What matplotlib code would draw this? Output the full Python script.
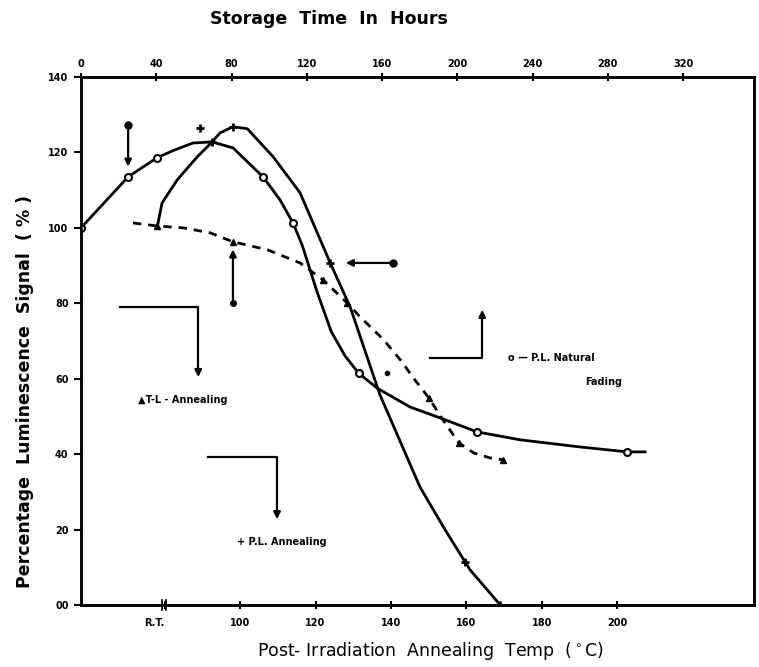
import matplotlib
matplotlib.use('Agg')
import matplotlib.pyplot as plt

# P.L. natural fading vs storage time (hours, top axis)
fading_hours = [0, 25, 40.4, 50, 59.5, 69.6, 80.8, 96.8, 105.8, 112.7, 117.5, 125.5, 133,
                140.4, 147.5, 157.4, 174.9, 190.9, 210.5, 233.4, 265.3, 290.3, 299.8]
fading_signal = [100, 113.5, 118.6, 120.7, 122.5, 122.8, 121.2, 113.5, 107.4, 101.3, 95.5, 83.0, 72.5,
                 66.0, 61.5, 57.5, 52.5, 49.6, 45.9, 43.8, 41.9, 40.6, 40.6]
fading_mark_hours = [0, 25, 40.4, 96.8, 112.7, 147.5, 210.5, 290.3]
fading_mark_signal = [100, 113.5, 118.6, 113.5, 101.3, 61.5, 45.9, 40.6]

# P.L. annealing vs temperature (bottom axis)
pl_temp = [78.2, 79.3, 83.3, 88.6, 92.6, 94.7, 98.1, 101.9, 108.8, 115.9, 123.9, 129.2,
           137.1, 147.7, 154.4, 161.0, 169.0]
pl_signal = [101.1, 106.6, 112.7, 118.8, 122.8, 125.2, 126.8, 126.3, 118.8, 109.3, 90.7, 79.0,
             55.7, 31.3, 19.9, 9.3, 0]
pl_mark_temp = [92.6, 98.1, 123.9, 159.7, 169.0]
pl_mark_signal = [122.8, 126.8, 90.7, 11.4, 0]

# T-L annealing vs temperature (dashed)
tl_temp = [71.6, 78.0, 84.9, 92.0, 98.1, 107.2, 115.9, 122.0, 128.4, 131.8, 137.9, 142.5,
           146.5, 150.0, 153.8, 158.0, 162.0, 166.3, 169.8]
tl_signal = [101.3, 100.5, 100.0, 98.7, 96.3, 94.2, 90.7, 86.2, 80.1, 76.4, 70.5, 65.0,
             59.5, 55.0, 49.1, 43.0, 40.3, 39.0, 38.5]
tl_mark_temp = [78.0, 98.1, 122.0, 128.4, 150.0, 158.0, 169.8]
tl_mark_signal = [100.5, 96.3, 86.2, 80.1, 55.0, 43.0, 38.5]

temp_ticks = [80, 100, 120, 140, 160, 180, 200]
temp_labels = ['R.T.', '100', '120', '140', '160', '180', '200']
hour_ticks = [0, 40, 80, 120, 160, 200, 240, 280, 320]
signal_ticks = [0, 20, 40, 60, 80, 100, 120, 140]
signal_labels = ['00', '20', '40', '60', '80', '100', '120', '140']

T_MIN, T_MAX = 57.8, 236.3
H_MAX = (T_MAX - T_MIN) / 0.499

fig = plt.figure(figsize=(7.59, 6.67), dpi=100)
ax = fig.add_axes([81 / 759, 1 - 605 / 667, (754 - 81) / 759, (605 - 77) / 667])
ax.set_xlim(T_MIN, T_MAX)
ax.set_ylim(0, 140)
top = ax.twiny()
top.set_xlim(0, H_MAX)

for a in (ax, top):
    for s in a.spines.values():
        s.set_linewidth(1.8)

tick_font = dict(fontsize=7, fontweight='bold')
ax.set_xticks(temp_ticks)
ax.set_xticklabels(temp_labels, **tick_font)
ax.get_xticklabels()[0].set_horizontalalignment('right')
ax.set_yticks(signal_ticks)
ax.set_yticklabels(signal_labels, **tick_font)
top.set_xticks(hour_ticks)
top.set_xticklabels([str(h) for h in hour_ticks], **tick_font)
ax.tick_params(axis='x', direction='inout', length=6, width=1.5, pad=6)
ax.tick_params(axis='y', direction='out', length=5, width=1.5, pad=4)
top.tick_params(axis='x', direction='inout', length=6, width=1.5, pad=3)

# axis break marks near R.T.
ax.plot([79.2, 79.2], [-1.3, 1.3], color='black', lw=1.2, clip_on=False)
ax.plot([80.4, 80.4], [-1.3, 1.3], color='black', lw=1.2, clip_on=False)

fig.text(431 / 759, 1 - 651 / 667, 'Post- Irradiation  Annealing  Temp  ($^\\circ$C)',
         fontsize=12.5, ha='center', va='center')
fig.text(25 / 759, 1 - 392 / 667, 'Percentage  Luminescence  Signal  ( % )',
         fontsize=12.5, fontweight='bold', rotation=90, ha='center', va='center')
fig.text(329 / 759, 1 - 19 / 667, 'Storage  Time  In  Hours',
         fontsize=12.5, fontweight='bold', ha='center', va='center')

lw = 2.0
top.plot(fading_hours, fading_signal, color='black', lw=lw)
top.plot(fading_mark_hours, fading_mark_signal, 'o', ms=5, mfc='white', mec='black', mew=1.5)

ax.plot(pl_temp, pl_signal, color='black', lw=lw)
ax.plot(pl_mark_temp, pl_mark_signal, '+', ms=6, color='black', mew=2)

ax.plot(tl_temp, tl_signal, color='black', lw=2, ls=(0, (3, 2.5)))
ax.plot(tl_mark_temp, tl_mark_signal, '^', ms=5, color='black')

arrow = dict(arrowstyle='-|>', color='black', lw=1.6, mutation_scale=10)
# pointer arrows with symbols
ax.plot([70.3], [127.3], 'o', ms=5, color='black')
ax.annotate('', xy=(70.3, 115.5), xytext=(70.3, 127.3), arrowprops=arrow)
ax.plot([89.4], [126.5], '+', ms=6, mew=2, color='black')
ax.plot([98.1], [80.1], 'o', ms=4, color='black')
ax.annotate('', xy=(98.1, 95.0), xytext=(98.1, 80.1), arrowprops=arrow)
ax.plot([140.6], [90.7], 'o', ms=5, color='black')
ax.annotate('', xy=(127.3, 90.7), xytext=(140.6, 90.7), arrowprops=arrow)
ax.plot([139.0], [61.5], 'o', ms=3, color='black')

# T-L annealing bracket
ax.plot([68.2, 88.9, 88.9], [79.0, 79.0, 62.0], color='black', lw=1.6)
ax.annotate('', xy=(88.9, 59.7), xytext=(88.9, 63.0), arrowprops=arrow)
ax.text(72.9, 54.4, '\u25b2T-L - Annealing', fontsize=7, fontweight='bold', va='center')

# natural fading bracket
ax.plot([150.4, 164.2, 164.2], [65.5, 65.5, 76.0], color='black', lw=1.6)
ax.annotate('', xy=(164.2, 79.0), xytext=(164.2, 75.0), arrowprops=arrow)
ax.text(171.1, 65.5, 'o \u2014 P.L. Natural', fontsize=7, fontweight='bold', va='center')
ax.text(191.5, 59.2, 'Fading', fontsize=7, fontweight='bold', va='center')

# P.L. annealing bracket
ax.plot([91.5, 109.8, 109.8], [39.3, 39.3, 24.0], color='black', lw=1.6)
ax.annotate('', xy=(109.8, 22.0), xytext=(109.8, 25.0), arrowprops=arrow)
ax.text(99.2, 16.7, '+ P.L. Annealing', fontsize=7, fontweight='bold', va='center')

fig.savefig('out.png', dpi=100)
